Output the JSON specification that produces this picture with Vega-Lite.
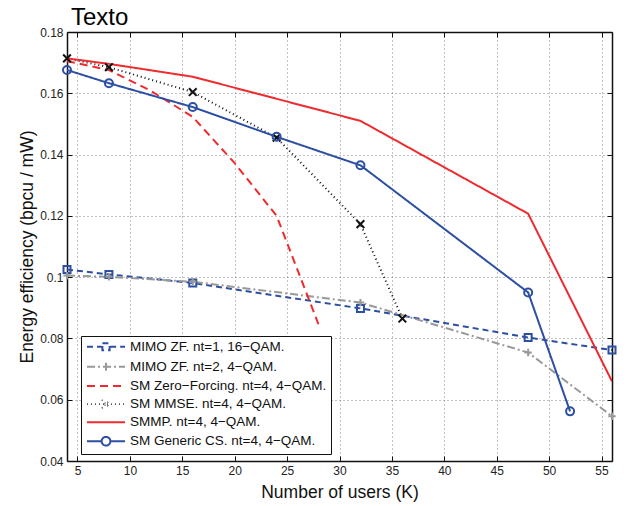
{
  "$schema": "https://vega.github.io/schema/vega-lite/v6.json",
  "width": 545,
  "height": 429,
  "autosize": {"type": "none"},
  "padding": {"left": 67, "top": 32, "right": 17, "bottom": 45},
  "background": "white",
  "title": {"text": "Texto", "anchor": "start", "frame": "group", "fontSize": 24, "font": "Liberation Sans", "fontWeight": "normal", "color": "#000", "offset": 6, "dx": 4, "dy": 10},
  "config": {
    "view": {"stroke": null},
    "font": "Liberation Sans",
    "axis": {"labelFont": "Liberation Sans", "titleFont": "Liberation Sans", "labelColor": "#222", "titleColor": "#111", "labelFontSize": 12, "titleFontSize": 17.5, "titleFontWeight": "normal", "domainColor": "#111", "domainWidth": 1.5, "tickColor": "#111", "tickWidth": 1, "tickSize": -5, "labelPadding": 9, "gridColor": "#666", "gridDash": [1, 3], "gridWidth": 0.8}
  },
  "data": {"values": [
    {"s": "MIMO ZF. nt=1, 16−QAM.", "x": 4, "y": 0.1025},
    {"s": "MIMO ZF. nt=1, 16−QAM.", "x": 8, "y": 0.1009},
    {"s": "MIMO ZF. nt=1, 16−QAM.", "x": 16, "y": 0.0981},
    {"s": "MIMO ZF. nt=1, 16−QAM.", "x": 32, "y": 0.0898},
    {"s": "MIMO ZF. nt=1, 16−QAM.", "x": 48, "y": 0.0803},
    {"s": "MIMO ZF. nt=1, 16−QAM.", "x": 56, "y": 0.0762},
    {"s": "MIMO ZF. nt=2, 4−QAM.", "x": 4, "y": 0.1005},
    {"s": "MIMO ZF. nt=2, 4−QAM.", "x": 8, "y": 0.1001},
    {"s": "MIMO ZF. nt=2, 4−QAM.", "x": 16, "y": 0.0985},
    {"s": "MIMO ZF. nt=2, 4−QAM.", "x": 32, "y": 0.0917},
    {"s": "MIMO ZF. nt=2, 4−QAM.", "x": 48, "y": 0.0754},
    {"s": "MIMO ZF. nt=2, 4−QAM.", "x": 56, "y": 0.0546},
    {"s": "SM Zero−Forcing. nt=4, 4−QAM.", "x": 4, "y": 0.1705},
    {"s": "SM Zero−Forcing. nt=4, 4−QAM.", "x": 8, "y": 0.1676},
    {"s": "SM Zero−Forcing. nt=4, 4−QAM.", "x": 12, "y": 0.1608},
    {"s": "SM Zero−Forcing. nt=4, 4−QAM.", "x": 16, "y": 0.1523},
    {"s": "SM Zero−Forcing. nt=4, 4−QAM.", "x": 20, "y": 0.1372},
    {"s": "SM Zero−Forcing. nt=4, 4−QAM.", "x": 24, "y": 0.1200},
    {"s": "SM Zero−Forcing. nt=4, 4−QAM.", "x": 28, "y": 0.0846},
    {"s": "SM MMSE. nt=4, 4−QAM.", "x": 4, "y": 0.1714},
    {"s": "SM MMSE. nt=4, 4−QAM.", "x": 8, "y": 0.1685},
    {"s": "SM MMSE. nt=4, 4−QAM.", "x": 16, "y": 0.1604},
    {"s": "SM MMSE. nt=4, 4−QAM.", "x": 24, "y": 0.1455},
    {"s": "SM MMSE. nt=4, 4−QAM.", "x": 32, "y": 0.1173},
    {"s": "SM MMSE. nt=4, 4−QAM.", "x": 36, "y": 0.0865},
    {"s": "SMMP. nt=4, 4−QAM.", "x": 4, "y": 0.1714},
    {"s": "SMMP. nt=4, 4−QAM.", "x": 8, "y": 0.1696},
    {"s": "SMMP. nt=4, 4−QAM.", "x": 16, "y": 0.1654},
    {"s": "SMMP. nt=4, 4−QAM.", "x": 32, "y": 0.1510},
    {"s": "SMMP. nt=4, 4−QAM.", "x": 48, "y": 0.1207},
    {"s": "SMMP. nt=4, 4−QAM.", "x": 56, "y": 0.0660},
    {"s": "SM Generic CS. nt=4, 4−QAM.", "x": 4, "y": 0.1676},
    {"s": "SM Generic CS. nt=4, 4−QAM.", "x": 8, "y": 0.1633},
    {"s": "SM Generic CS. nt=4, 4−QAM.", "x": 16, "y": 0.1555},
    {"s": "SM Generic CS. nt=4, 4−QAM.", "x": 24, "y": 0.1458},
    {"s": "SM Generic CS. nt=4, 4−QAM.", "x": 32, "y": 0.1365},
    {"s": "SM Generic CS. nt=4, 4−QAM.", "x": 48, "y": 0.0950},
    {"s": "SM Generic CS. nt=4, 4−QAM.", "x": 52, "y": 0.0562}
  ]},
  "layer": [
    {
      "mark": {"type": "line", "clip": true},
      "encoding": {
        "x": {"field": "x", "type": "quantitative", "scale": {"domain": [4, 56], "nice": false, "zero": false},
          "axis": {"orient": "bottom", "title": "Number of users (K)", "values": [5, 10, 15, 20, 25, 30, 35, 40, 45, 50, 55], "grid": true, "titlePadding": 7}},
        "y": {"field": "y", "type": "quantitative", "scale": {"domain": [0.04, 0.18], "nice": false, "zero": false},
          "axis": {"orient": "left", "title": "Energy efficiency (bpcu / mW)", "values": [0.04, 0.06, 0.08, 0.1, 0.12, 0.14, 0.16, 0.18], "format": ".2~f", "grid": true, "titlePadding": 3}},
        "color": {"field": "s", "type": "nominal",
          "scale": {"domain": ["MIMO ZF. nt=1, 16−QAM.", "MIMO ZF. nt=2, 4−QAM.", "SM Zero−Forcing. nt=4, 4−QAM.", "SM MMSE. nt=4, 4−QAM.", "SMMP. nt=4, 4−QAM.", "SM Generic CS. nt=4, 4−QAM."],
            "range": ["#2d4fa3", "#999999", "#ee2b2e", "#111111", "#ee2b2e", "#2d4fa3"]},
          "legend": {"title": null, "orient": "none", "legendX": 14, "legendY": 304, "padding": 4, "strokeColor": "#111", "fillColor": "white", "labelFont": "Liberation Sans", "labelFontSize": 13.5, "labelColor": "#111", "symbolSize": 1444, "rowPadding": 3.1, "labelOffset": 5, "labelLimit": 400,
            "encode": {
              "symbols": {"update": {
                "x": {"value": 21},
                "size": {"value": 1444},
                "fill": {"value": "transparent"},
                "shape": {"signal": "datum.value === 'MIMO ZF. nt=1, 16−QAM.' ? 'M-1,0H-0.22M0.22,0H1M-0.19,-0.19H0.19V0.19H-0.19Z' : datum.value === 'MIMO ZF. nt=2, 4−QAM.' ? 'M-1,0H1M0,-0.22V0.22' : datum.value === 'SM MMSE. nt=4, 4−QAM.' ? 'M-1,0H1M-0.22,-0.22L0.22,0.22M-0.22,0.22L0.22,-0.22' : datum.value === 'SM Generic CS. nt=4, 4−QAM.' ? 'M-1,0H-0.23M0.23,0H1M0.23,0A0.23,0.23 0 1,1 -0.23,0A0.23,0.23 0 1,1 0.23,0' : 'M-1,0H1'"},
                "strokeWidth": {"signal": "datum.value === 'SM MMSE. nt=4, 4−QAM.' ? 1.3 : 2"}
              }},
              "labels": {"update": {"x": {"value": 45}}}
            }}},
        "strokeDash": {"field": "s", "type": "nominal",
          "scale": {"domain": ["MIMO ZF. nt=1, 16−QAM.", "MIMO ZF. nt=2, 4−QAM.", "SM Zero−Forcing. nt=4, 4−QAM.", "SM MMSE. nt=4, 4−QAM.", "SMMP. nt=4, 4−QAM.", "SM Generic CS. nt=4, 4−QAM."],
            "range": [[6, 4], [8, 3, 2, 3], [8, 5], [1, 3], [1, 0], [1, 0]]}},
        "strokeWidth": {"field": "s", "type": "nominal", "legend": null,
          "scale": {"domain": ["MIMO ZF. nt=1, 16−QAM.", "MIMO ZF. nt=2, 4−QAM.", "SM Zero−Forcing. nt=4, 4−QAM.", "SM MMSE. nt=4, 4−QAM.", "SMMP. nt=4, 4−QAM.", "SM Generic CS. nt=4, 4−QAM."],
            "range": [2, 2, 2, 1.1, 2, 2]}}
      }
    },
    {
      "transform": [{"filter": "datum.s !== 'SM Zero−Forcing. nt=4, 4−QAM.' && datum.s !== 'SMMP. nt=4, 4−QAM.'"}],
      "mark": {"type": "point", "filled": false, "opacity": 1, "clip": false},
      "encoding": {
        "x": {"field": "x", "type": "quantitative", "axis": {"orient": "top", "title": null, "labels": false, "values": [5, 10, 15, 20, 25, 30, 35, 40, 45, 50, 55], "grid": false}},
        "y": {"field": "y", "type": "quantitative", "axis": {"orient": "right", "title": null, "labels": false, "values": [0.04, 0.06, 0.08, 0.1, 0.12, 0.14, 0.16, 0.18], "grid": false}},
        "stroke": {"field": "s", "type": "nominal", "legend": null,
          "scale": {"domain": ["MIMO ZF. nt=1, 16−QAM.", "MIMO ZF. nt=2, 4−QAM.", "SM MMSE. nt=4, 4−QAM.", "SM Generic CS. nt=4, 4−QAM."],
            "range": ["#2d4fa3", "#999999", "#111111", "#2d4fa3"]}},
        "shape": {"field": "s", "type": "nominal", "legend": null,
          "scale": {"domain": ["MIMO ZF. nt=1, 16−QAM.", "MIMO ZF. nt=2, 4−QAM.", "SM MMSE. nt=4, 4−QAM.", "SM Generic CS. nt=4, 4−QAM."],
            "range": ["square", "M-1,0H1M0,-1V1", "M-1,-1L1,1M-1,1L1,-1", "circle"]}},
        "size": {"field": "s", "type": "nominal", "legend": null,
          "scale": {"domain": ["MIMO ZF. nt=1, 16−QAM.", "MIMO ZF. nt=2, 4−QAM.", "SM MMSE. nt=4, 4−QAM.", "SM Generic CS. nt=4, 4−QAM."],
            "range": [49, 64, 90, 81]}},
        "strokeWidth": {"field": "s", "type": "nominal", "legend": null,
          "scale": {"domain": ["MIMO ZF. nt=1, 16−QAM.", "MIMO ZF. nt=2, 4−QAM.", "SM MMSE. nt=4, 4−QAM.", "SM Generic CS. nt=4, 4−QAM."],
            "range": [2, 2, 2.8, 2]}}
      }
    }
  ],
  "resolve": {"axis": {"x": "independent", "y": "independent"}, "scale": {"strokeWidth": "independent"}}
}
